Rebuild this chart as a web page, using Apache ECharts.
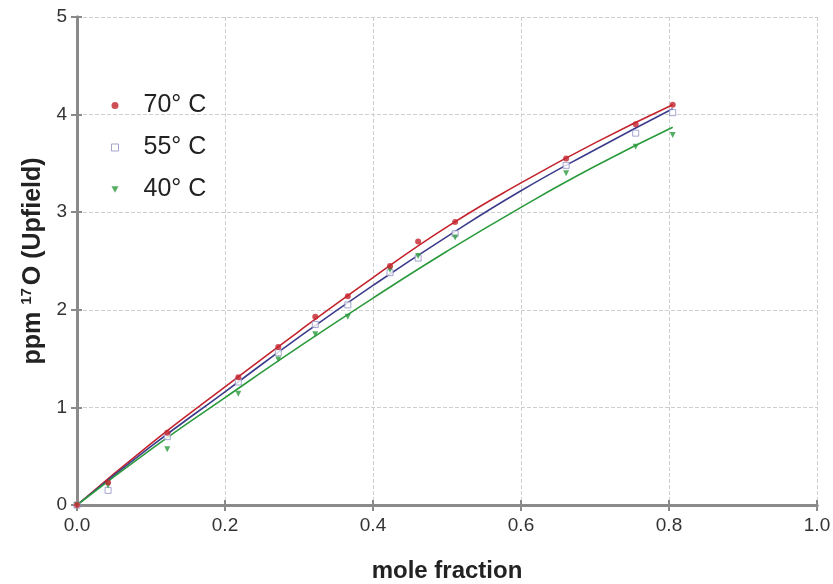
<!DOCTYPE html>
<html>
<head>
<meta charset="utf-8">
<script src="https://cdn.jsdelivr.net/npm/echarts@6/dist/echarts.min.js"></script>
<style>html,body{margin:0;padding:0;background:#fff}#c{width:833px;height:584px}</style>
</head>
<body>
<div id="c"></div>
<script>
// Measured points (mole fraction, ppm)
const x70 = [0, 0.042, 0.122, 0.218, 0.272, 0.322, 0.366, 0.423, 0.461, 0.511, 0.661, 0.755, 0.805];
const y70 = [0, 0.23, 0.74, 1.31, 1.62, 1.93, 2.14, 2.45, 2.70, 2.90, 3.55, 3.90, 4.10];
const x55 = [0, 0.042, 0.122, 0.218, 0.272, 0.322, 0.366, 0.423, 0.461, 0.511, 0.661, 0.755, 0.805];
const y55 = [0, 0.15, 0.70, 1.26, 1.56, 1.85, 2.05, 2.38, 2.53, 2.78, 3.48, 3.81, 4.02];
const x40 = [0, 0.042, 0.122, 0.218, 0.272, 0.322, 0.366, 0.423, 0.461, 0.511, 0.661, 0.755, 0.805];
const y40 = [0, 0.20, 0.57, 1.14, 1.49, 1.75, 1.93, 2.41, 2.55, 2.74, 3.40, 3.67, 3.79];
// Fitted curves
const fitX = [0, 0.1, 0.2, 0.3, 0.4, 0.5, 0.6, 0.7, 0.805];
const fit70 = [0, 0.63, 1.21, 1.78, 2.33, 2.85, 3.30, 3.71, 4.10];
const fit55 = [0, 0.60, 1.16, 1.72, 2.25, 2.75, 3.22, 3.64, 4.06];
const fit40 = [0, 0.57, 1.10, 1.62, 2.12, 2.60, 3.05, 3.47, 3.87];
const xTicks = [0, 0.2, 0.4, 0.6, 0.8, 1.0];
const yTicks = [0, 1, 2, 3, 4, 5];
const names = ['70° C', '55° C', '40° C'];

const zip = (a, b) => a.map((v, i) => [v, b[i]]);
const cRed = '#c4232d', cBlue = '#3c3c8c', cGreen = '#2a9a3c', cSq = '#8e8ec4';
const axisGray = '#8a8a8a';
const FONT = 'Liberation Sans, Arial, sans-serif';
const triDown = 'path://M0,0 L10,0 L5,9 Z';

const chart = echarts.init(document.getElementById('c'), null, {renderer: 'canvas'});
chart.setOption({
  animation: false,
  backgroundColor: '#fff',
  textStyle: {fontFamily: FONT},
  grid: {left: 77, right: 16, top: 17, bottom: 79, containLabel: false, outerBoundsMode: 'none'},
  legend: {
    orient: 'vertical', left: 106, top: 88, itemGap: 17,
    itemWidth: 7, itemHeight: 7,
    textStyle: {fontSize: 25, lineHeight: 25, color: '#222', padding: [0, 0, 0, 20]},
    data: [
      {name: names[0], icon: 'circle', itemStyle: {color: cRed}},
      {name: names[1], icon: 'rect', itemStyle: {color: '#fff', borderColor: cSq, borderWidth: 1}},
      {name: names[2], icon: triDown, itemStyle: {color: cGreen}}
    ]
  },
  xAxis: [{
    type: 'value', min: 0, max: 1, interval: 0.2,
    name: 'mole fraction', nameLocation: 'middle', nameGap: 54,
    nameTextStyle: {fontSize: 24, fontWeight: 'bold', color: '#222'},
    axisLine: {show: true, lineStyle: {color: axisGray, width: 3}},
    axisTick: {show: true, length: 6, lineStyle: {color: axisGray, width: 2}},
    axisLabel: {fontSize: 19, color: '#333', margin: 11, formatter: v => v.toFixed(1)},
    splitLine: {show: true, lineStyle: {color: '#cfcfcf', type: 'dashed', width: 1}}
  }, {
    type: 'value', position: 'top', min: 0, max: 1, interval: 0.2,
    axisLine: {show: true, lineStyle: {color: axisGray, width: 3}},
    axisTick: {show: true, length: 5, lineStyle: {color: axisGray, width: 2}},
    axisLabel: {show: false}, splitLine: {show: false}
  }],
  yAxis: [{
    type: 'value', min: 0, max: 5, interval: 1,
    name: '{a|ppm }{s|17}{a|O (Upfield)}', nameLocation: 'middle', nameGap: 27,
    nameTextStyle: {
      rich: {
        a: {fontSize: 25, fontWeight: 'bold', color: '#222', fontFamily: FONT},
        s: {fontSize: 15, fontWeight: 'bold', color: '#222', verticalAlign: 'bottom', padding: [0, 3, 12, 0], fontFamily: FONT}
      }
    },
    axisLine: {show: true, lineStyle: {color: axisGray, width: 3}},
    axisTick: {show: true, length: 6, lineStyle: {color: axisGray, width: 2}},
    axisLabel: {fontSize: 19, color: '#333', margin: 10},
    splitLine: {show: true, lineStyle: {color: '#cfcfcf', type: 'dashed', width: 1}}
  }, {
    type: 'value', position: 'right', min: 0, max: 5, interval: 1,
    axisLine: {show: true, lineStyle: {color: axisGray, width: 3}},
    axisTick: {show: true, length: 5, lineStyle: {color: axisGray, width: 2}},
    axisLabel: {show: false}, splitLine: {show: false}
  }],
  series: [
    {name: 'fit70', type: 'line', data: zip(fitX, fit70), smooth: true, showSymbol: false, symbol: 'none',
     lineStyle: {color: cRed, width: 1.6}, z: 2},
    {name: 'fit55', type: 'line', data: zip(fitX, fit55), smooth: true, showSymbol: false, symbol: 'none',
     lineStyle: {color: cBlue, width: 1.6}, z: 2},
    {name: 'fit40', type: 'line', data: zip(fitX, fit40), smooth: true, showSymbol: false, symbol: 'none',
     lineStyle: {color: cGreen, width: 1.6}, z: 2},
    {name: names[1], type: 'scatter', data: zip(x55, y55), symbol: 'rect', symbolSize: 6,
     itemStyle: {color: '#fff', borderColor: cSq, borderWidth: 1}, z: 3},
    {name: names[2], type: 'scatter', data: zip(x40, y40), symbol: triDown, symbolSize: [6, 6],
     itemStyle: {color: cGreen}, z: 3},
    {name: names[0], type: 'scatter', data: zip(x70, y70), symbol: 'circle', symbolSize: 6,
     itemStyle: {color: cRed}, z: 4}
  ]
});
</script>
</body>
</html>
